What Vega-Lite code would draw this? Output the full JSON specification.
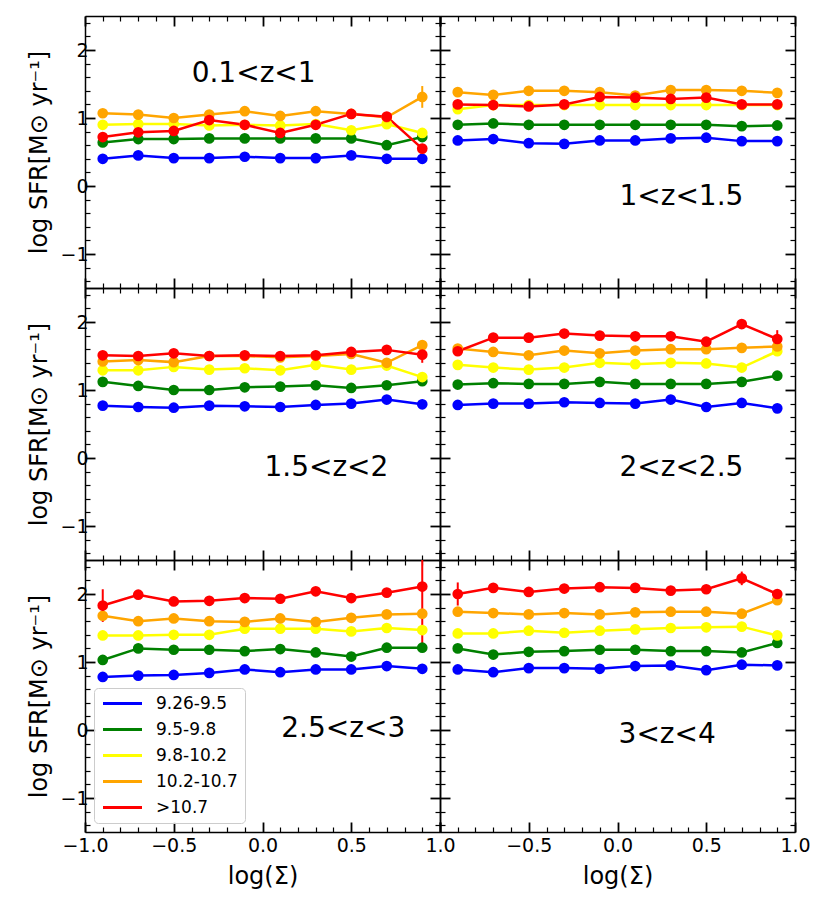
{
  "$schema": "https://vega.github.io/schema/vega-lite/v6.json",
  "padding": {"left": 27, "top": 13, "right": 5, "bottom": 5},
  "background": "white",
  "columns": 2,
  "spacing": 0,
  "bounds": "flush",
  "resolve": {"scale": {"color": "independent"}, "legend": {"color": "independent"}},
  "config": {
    "view": {"stroke": null},
    "font": "DejaVu Sans",
    "axis": {"domainColor": "black", "domainWidth": 1.5, "tickColor": "black", "labelColor": "black", "titleColor": "black", "labelFont": "DejaVu Sans", "titleFont": "DejaVu Sans", "titleFontWeight": "normal", "grid": false, "labelOverlap": false, "labelFlush": false, "tickCap": "butt"}
  },
  "datasets": {
    "d": [
      {"p":1,"m":"9.26-9.5","x":-0.9,"y":0.40,"e":0.02},{"p":1,"m":"9.26-9.5","x":-0.7,"y":0.45,"e":0.02},{"p":1,"m":"9.26-9.5","x":-0.5,"y":0.41,"e":0.02},{"p":1,"m":"9.26-9.5","x":-0.3,"y":0.41,"e":0.02},{"p":1,"m":"9.26-9.5","x":-0.1,"y":0.43,"e":0.02},{"p":1,"m":"9.26-9.5","x":0.1,"y":0.41,"e":0.02},{"p":1,"m":"9.26-9.5","x":0.3,"y":0.41,"e":0.02},{"p":1,"m":"9.26-9.5","x":0.5,"y":0.45,"e":0.02},{"p":1,"m":"9.26-9.5","x":0.7,"y":0.40,"e":0.02},{"p":1,"m":"9.26-9.5","x":0.9,"y":0.40,"e":0.02},
      {"p":1,"m":"9.5-9.8","x":-0.9,"y":0.64,"e":0.02},{"p":1,"m":"9.5-9.8","x":-0.7,"y":0.69,"e":0.02},{"p":1,"m":"9.5-9.8","x":-0.5,"y":0.69,"e":0.02},{"p":1,"m":"9.5-9.8","x":-0.3,"y":0.70,"e":0.02},{"p":1,"m":"9.5-9.8","x":-0.1,"y":0.70,"e":0.02},{"p":1,"m":"9.5-9.8","x":0.1,"y":0.70,"e":0.02},{"p":1,"m":"9.5-9.8","x":0.3,"y":0.70,"e":0.02},{"p":1,"m":"9.5-9.8","x":0.5,"y":0.70,"e":0.02},{"p":1,"m":"9.5-9.8","x":0.7,"y":0.60,"e":0.02},{"p":1,"m":"9.5-9.8","x":0.9,"y":0.72,"e":0.02},
      {"p":1,"m":"9.8-10.2","x":-0.9,"y":0.90,"e":0.02},{"p":1,"m":"9.8-10.2","x":-0.7,"y":0.91,"e":0.02},{"p":1,"m":"9.8-10.2","x":-0.5,"y":0.91,"e":0.02},{"p":1,"m":"9.8-10.2","x":-0.3,"y":0.89,"e":0.02},{"p":1,"m":"9.8-10.2","x":-0.1,"y":0.90,"e":0.02},{"p":1,"m":"9.8-10.2","x":0.1,"y":0.89,"e":0.02},{"p":1,"m":"9.8-10.2","x":0.3,"y":0.91,"e":0.02},{"p":1,"m":"9.8-10.2","x":0.5,"y":0.82,"e":0.02},{"p":1,"m":"9.8-10.2","x":0.7,"y":0.91,"e":0.02},{"p":1,"m":"9.8-10.2","x":0.9,"y":0.78,"e":0.04},
      {"p":1,"m":"10.2-10.7","x":-0.9,"y":1.07,"e":0.02},{"p":1,"m":"10.2-10.7","x":-0.7,"y":1.05,"e":0.02},{"p":1,"m":"10.2-10.7","x":-0.5,"y":1.00,"e":0.02},{"p":1,"m":"10.2-10.7","x":-0.3,"y":1.05,"e":0.02},{"p":1,"m":"10.2-10.7","x":-0.1,"y":1.10,"e":0.02},{"p":1,"m":"10.2-10.7","x":0.1,"y":1.03,"e":0.02},{"p":1,"m":"10.2-10.7","x":0.3,"y":1.10,"e":0.02},{"p":1,"m":"10.2-10.7","x":0.5,"y":1.06,"e":0.02},{"p":1,"m":"10.2-10.7","x":0.7,"y":1.01,"e":0.02},{"p":1,"m":"10.2-10.7","x":0.9,"y":1.31,"e":0.16},
      {"p":1,"m":">10.7","x":-0.9,"y":0.72,"e":0.02},{"p":1,"m":">10.7","x":-0.7,"y":0.79,"e":0.02},{"p":1,"m":">10.7","x":-0.5,"y":0.81,"e":0.02},{"p":1,"m":">10.7","x":-0.3,"y":0.97,"e":0.02},{"p":1,"m":">10.7","x":-0.1,"y":0.90,"e":0.02},{"p":1,"m":">10.7","x":0.1,"y":0.78,"e":0.02},{"p":1,"m":">10.7","x":0.3,"y":0.90,"e":0.02},{"p":1,"m":">10.7","x":0.5,"y":1.06,"e":0.02},{"p":1,"m":">10.7","x":0.7,"y":1.02,"e":0.02},{"p":1,"m":">10.7","x":0.9,"y":0.55,"e":0.05},

      {"p":2,"m":"9.26-9.5","x":-0.9,"y":0.67,"e":0.02},{"p":2,"m":"9.26-9.5","x":-0.7,"y":0.69,"e":0.02},{"p":2,"m":"9.26-9.5","x":-0.5,"y":0.63,"e":0.02},{"p":2,"m":"9.26-9.5","x":-0.3,"y":0.62,"e":0.02},{"p":2,"m":"9.26-9.5","x":-0.1,"y":0.67,"e":0.02},{"p":2,"m":"9.26-9.5","x":0.1,"y":0.67,"e":0.02},{"p":2,"m":"9.26-9.5","x":0.3,"y":0.70,"e":0.02},{"p":2,"m":"9.26-9.5","x":0.5,"y":0.71,"e":0.02},{"p":2,"m":"9.26-9.5","x":0.7,"y":0.66,"e":0.02},{"p":2,"m":"9.26-9.5","x":0.9,"y":0.66,"e":0.02},
      {"p":2,"m":"9.5-9.8","x":-0.9,"y":0.90,"e":0.02},{"p":2,"m":"9.5-9.8","x":-0.7,"y":0.92,"e":0.02},{"p":2,"m":"9.5-9.8","x":-0.5,"y":0.90,"e":0.02},{"p":2,"m":"9.5-9.8","x":-0.3,"y":0.90,"e":0.02},{"p":2,"m":"9.5-9.8","x":-0.1,"y":0.90,"e":0.02},{"p":2,"m":"9.5-9.8","x":0.1,"y":0.90,"e":0.02},{"p":2,"m":"9.5-9.8","x":0.3,"y":0.90,"e":0.02},{"p":2,"m":"9.5-9.8","x":0.5,"y":0.90,"e":0.02},{"p":2,"m":"9.5-9.8","x":0.7,"y":0.88,"e":0.02},{"p":2,"m":"9.5-9.8","x":0.9,"y":0.89,"e":0.02},
      {"p":2,"m":"9.8-10.2","x":-0.9,"y":1.13,"e":0.02},{"p":2,"m":"9.8-10.2","x":-0.7,"y":1.19,"e":0.02},{"p":2,"m":"9.8-10.2","x":-0.5,"y":1.19,"e":0.02},{"p":2,"m":"9.8-10.2","x":-0.3,"y":1.19,"e":0.02},{"p":2,"m":"9.8-10.2","x":-0.1,"y":1.19,"e":0.02},{"p":2,"m":"9.8-10.2","x":0.1,"y":1.19,"e":0.02},{"p":2,"m":"9.8-10.2","x":0.3,"y":1.19,"e":0.02},{"p":2,"m":"9.8-10.2","x":0.5,"y":1.19,"e":0.02},{"p":2,"m":"9.8-10.2","x":0.7,"y":1.19,"e":0.02},{"p":2,"m":"9.8-10.2","x":0.9,"y":1.19,"e":0.02},
      {"p":2,"m":"10.2-10.7","x":-0.9,"y":1.38,"e":0.02},{"p":2,"m":"10.2-10.7","x":-0.7,"y":1.34,"e":0.02},{"p":2,"m":"10.2-10.7","x":-0.5,"y":1.40,"e":0.02},{"p":2,"m":"10.2-10.7","x":-0.3,"y":1.40,"e":0.02},{"p":2,"m":"10.2-10.7","x":-0.1,"y":1.38,"e":0.02},{"p":2,"m":"10.2-10.7","x":0.1,"y":1.33,"e":0.02},{"p":2,"m":"10.2-10.7","x":0.3,"y":1.41,"e":0.02},{"p":2,"m":"10.2-10.7","x":0.5,"y":1.41,"e":0.02},{"p":2,"m":"10.2-10.7","x":0.7,"y":1.40,"e":0.02},{"p":2,"m":"10.2-10.7","x":0.9,"y":1.37,"e":0.05},
      {"p":2,"m":">10.7","x":-0.9,"y":1.20,"e":0.02},{"p":2,"m":">10.7","x":-0.7,"y":1.19,"e":0.02},{"p":2,"m":">10.7","x":-0.5,"y":1.17,"e":0.02},{"p":2,"m":">10.7","x":-0.3,"y":1.20,"e":0.02},{"p":2,"m":">10.7","x":-0.1,"y":1.31,"e":0.02},{"p":2,"m":">10.7","x":0.1,"y":1.30,"e":0.02},{"p":2,"m":">10.7","x":0.3,"y":1.28,"e":0.02},{"p":2,"m":">10.7","x":0.5,"y":1.30,"e":0.02},{"p":2,"m":">10.7","x":0.7,"y":1.20,"e":0.02},{"p":2,"m":">10.7","x":0.9,"y":1.20,"e":0.05},

      {"p":3,"m":"9.26-9.5","x":-0.9,"y":0.77,"e":0.02},{"p":3,"m":"9.26-9.5","x":-0.7,"y":0.75,"e":0.02},{"p":3,"m":"9.26-9.5","x":-0.5,"y":0.74,"e":0.02},{"p":3,"m":"9.26-9.5","x":-0.3,"y":0.77,"e":0.02},{"p":3,"m":"9.26-9.5","x":-0.1,"y":0.76,"e":0.02},{"p":3,"m":"9.26-9.5","x":0.1,"y":0.75,"e":0.02},{"p":3,"m":"9.26-9.5","x":0.3,"y":0.78,"e":0.02},{"p":3,"m":"9.26-9.5","x":0.5,"y":0.80,"e":0.02},{"p":3,"m":"9.26-9.5","x":0.7,"y":0.86,"e":0.02},{"p":3,"m":"9.26-9.5","x":0.9,"y":0.79,"e":0.02},
      {"p":3,"m":"9.5-9.8","x":-0.9,"y":1.12,"e":0.02},{"p":3,"m":"9.5-9.8","x":-0.7,"y":1.06,"e":0.02},{"p":3,"m":"9.5-9.8","x":-0.5,"y":1.00,"e":0.02},{"p":3,"m":"9.5-9.8","x":-0.3,"y":1.00,"e":0.02},{"p":3,"m":"9.5-9.8","x":-0.1,"y":1.04,"e":0.02},{"p":3,"m":"9.5-9.8","x":0.1,"y":1.05,"e":0.02},{"p":3,"m":"9.5-9.8","x":0.3,"y":1.07,"e":0.02},{"p":3,"m":"9.5-9.8","x":0.5,"y":1.03,"e":0.02},{"p":3,"m":"9.5-9.8","x":0.7,"y":1.07,"e":0.02},{"p":3,"m":"9.5-9.8","x":0.9,"y":1.13,"e":0.02},
      {"p":3,"m":"9.8-10.2","x":-0.9,"y":1.29,"e":0.02},{"p":3,"m":"9.8-10.2","x":-0.7,"y":1.29,"e":0.02},{"p":3,"m":"9.8-10.2","x":-0.5,"y":1.34,"e":0.02},{"p":3,"m":"9.8-10.2","x":-0.3,"y":1.30,"e":0.02},{"p":3,"m":"9.8-10.2","x":-0.1,"y":1.32,"e":0.02},{"p":3,"m":"9.8-10.2","x":0.1,"y":1.29,"e":0.02},{"p":3,"m":"9.8-10.2","x":0.3,"y":1.37,"e":0.02},{"p":3,"m":"9.8-10.2","x":0.5,"y":1.30,"e":0.02},{"p":3,"m":"9.8-10.2","x":0.7,"y":1.36,"e":0.02},{"p":3,"m":"9.8-10.2","x":0.9,"y":1.19,"e":0.02},
      {"p":3,"m":"10.2-10.7","x":-0.9,"y":1.42,"e":0.02},{"p":3,"m":"10.2-10.7","x":-0.7,"y":1.44,"e":0.02},{"p":3,"m":"10.2-10.7","x":-0.5,"y":1.41,"e":0.02},{"p":3,"m":"10.2-10.7","x":-0.3,"y":1.50,"e":0.02},{"p":3,"m":"10.2-10.7","x":-0.1,"y":1.50,"e":0.02},{"p":3,"m":"10.2-10.7","x":0.1,"y":1.48,"e":0.02},{"p":3,"m":"10.2-10.7","x":0.3,"y":1.50,"e":0.02},{"p":3,"m":"10.2-10.7","x":0.5,"y":1.53,"e":0.02},{"p":3,"m":"10.2-10.7","x":0.7,"y":1.40,"e":0.02},{"p":3,"m":"10.2-10.7","x":0.9,"y":1.66,"e":0.05},
      {"p":3,"m":">10.7","x":-0.9,"y":1.51,"e":0.02},{"p":3,"m":">10.7","x":-0.7,"y":1.50,"e":0.02},{"p":3,"m":">10.7","x":-0.5,"y":1.54,"e":0.02},{"p":3,"m":">10.7","x":-0.3,"y":1.50,"e":0.02},{"p":3,"m":">10.7","x":-0.1,"y":1.51,"e":0.02},{"p":3,"m":">10.7","x":0.1,"y":1.50,"e":0.02},{"p":3,"m":">10.7","x":0.3,"y":1.51,"e":0.02},{"p":3,"m":">10.7","x":0.5,"y":1.56,"e":0.02},{"p":3,"m":">10.7","x":0.7,"y":1.59,"e":0.02},{"p":3,"m":">10.7","x":0.9,"y":1.52,"e":0.12},

      {"p":4,"m":"9.26-9.5","x":-0.9,"y":0.78,"e":0.02},{"p":4,"m":"9.26-9.5","x":-0.7,"y":0.80,"e":0.02},{"p":4,"m":"9.26-9.5","x":-0.5,"y":0.80,"e":0.02},{"p":4,"m":"9.26-9.5","x":-0.3,"y":0.82,"e":0.02},{"p":4,"m":"9.26-9.5","x":-0.1,"y":0.81,"e":0.02},{"p":4,"m":"9.26-9.5","x":0.1,"y":0.80,"e":0.02},{"p":4,"m":"9.26-9.5","x":0.3,"y":0.86,"e":0.02},{"p":4,"m":"9.26-9.5","x":0.5,"y":0.75,"e":0.02},{"p":4,"m":"9.26-9.5","x":0.7,"y":0.81,"e":0.02},{"p":4,"m":"9.26-9.5","x":0.9,"y":0.73,"e":0.02},
      {"p":4,"m":"9.5-9.8","x":-0.9,"y":1.08,"e":0.02},{"p":4,"m":"9.5-9.8","x":-0.7,"y":1.10,"e":0.02},{"p":4,"m":"9.5-9.8","x":-0.5,"y":1.09,"e":0.02},{"p":4,"m":"9.5-9.8","x":-0.3,"y":1.09,"e":0.02},{"p":4,"m":"9.5-9.8","x":-0.1,"y":1.12,"e":0.02},{"p":4,"m":"9.5-9.8","x":0.1,"y":1.09,"e":0.02},{"p":4,"m":"9.5-9.8","x":0.3,"y":1.09,"e":0.02},{"p":4,"m":"9.5-9.8","x":0.5,"y":1.09,"e":0.02},{"p":4,"m":"9.5-9.8","x":0.7,"y":1.12,"e":0.02},{"p":4,"m":"9.5-9.8","x":0.9,"y":1.21,"e":0.02},
      {"p":4,"m":"9.8-10.2","x":-0.9,"y":1.37,"e":0.02},{"p":4,"m":"9.8-10.2","x":-0.7,"y":1.33,"e":0.02},{"p":4,"m":"9.8-10.2","x":-0.5,"y":1.30,"e":0.02},{"p":4,"m":"9.8-10.2","x":-0.3,"y":1.33,"e":0.02},{"p":4,"m":"9.8-10.2","x":-0.1,"y":1.40,"e":0.02},{"p":4,"m":"9.8-10.2","x":0.1,"y":1.38,"e":0.02},{"p":4,"m":"9.8-10.2","x":0.3,"y":1.40,"e":0.02},{"p":4,"m":"9.8-10.2","x":0.5,"y":1.39,"e":0.02},{"p":4,"m":"9.8-10.2","x":0.7,"y":1.33,"e":0.02},{"p":4,"m":"9.8-10.2","x":0.9,"y":1.57,"e":0.02},
      {"p":4,"m":"10.2-10.7","x":-0.9,"y":1.61,"e":0.02},{"p":4,"m":"10.2-10.7","x":-0.7,"y":1.56,"e":0.02},{"p":4,"m":"10.2-10.7","x":-0.5,"y":1.51,"e":0.02},{"p":4,"m":"10.2-10.7","x":-0.3,"y":1.58,"e":0.02},{"p":4,"m":"10.2-10.7","x":-0.1,"y":1.54,"e":0.02},{"p":4,"m":"10.2-10.7","x":0.1,"y":1.58,"e":0.02},{"p":4,"m":"10.2-10.7","x":0.3,"y":1.60,"e":0.02},{"p":4,"m":"10.2-10.7","x":0.5,"y":1.60,"e":0.02},{"p":4,"m":"10.2-10.7","x":0.7,"y":1.62,"e":0.02},{"p":4,"m":"10.2-10.7","x":0.9,"y":1.64,"e":0.03},
      {"p":4,"m":">10.7","x":-0.9,"y":1.57,"e":0.06},{"p":4,"m":">10.7","x":-0.7,"y":1.77,"e":0.02},{"p":4,"m":">10.7","x":-0.5,"y":1.77,"e":0.02},{"p":4,"m":">10.7","x":-0.3,"y":1.83,"e":0.02},{"p":4,"m":">10.7","x":-0.1,"y":1.80,"e":0.02},{"p":4,"m":">10.7","x":0.1,"y":1.79,"e":0.02},{"p":4,"m":">10.7","x":0.3,"y":1.79,"e":0.02},{"p":4,"m":">10.7","x":0.5,"y":1.71,"e":0.02},{"p":4,"m":">10.7","x":0.7,"y":1.97,"e":0.02},{"p":4,"m":">10.7","x":0.9,"y":1.75,"e":0.13},

      {"p":5,"m":"9.26-9.5","x":-0.9,"y":0.78,"e":0.02},{"p":5,"m":"9.26-9.5","x":-0.7,"y":0.80,"e":0.02},{"p":5,"m":"9.26-9.5","x":-0.5,"y":0.81,"e":0.02},{"p":5,"m":"9.26-9.5","x":-0.3,"y":0.84,"e":0.02},{"p":5,"m":"9.26-9.5","x":-0.1,"y":0.89,"e":0.02},{"p":5,"m":"9.26-9.5","x":0.1,"y":0.85,"e":0.02},{"p":5,"m":"9.26-9.5","x":0.3,"y":0.89,"e":0.02},{"p":5,"m":"9.26-9.5","x":0.5,"y":0.89,"e":0.02},{"p":5,"m":"9.26-9.5","x":0.7,"y":0.94,"e":0.02},{"p":5,"m":"9.26-9.5","x":0.9,"y":0.90,"e":0.02},
      {"p":5,"m":"9.5-9.8","x":-0.9,"y":1.03,"e":0.02},{"p":5,"m":"9.5-9.8","x":-0.7,"y":1.20,"e":0.02},{"p":5,"m":"9.5-9.8","x":-0.5,"y":1.18,"e":0.02},{"p":5,"m":"9.5-9.8","x":-0.3,"y":1.18,"e":0.02},{"p":5,"m":"9.5-9.8","x":-0.1,"y":1.16,"e":0.02},{"p":5,"m":"9.5-9.8","x":0.1,"y":1.19,"e":0.02},{"p":5,"m":"9.5-9.8","x":0.3,"y":1.14,"e":0.02},{"p":5,"m":"9.5-9.8","x":0.5,"y":1.08,"e":0.02},{"p":5,"m":"9.5-9.8","x":0.7,"y":1.21,"e":0.02},{"p":5,"m":"9.5-9.8","x":0.9,"y":1.21,"e":0.02},
      {"p":5,"m":"9.8-10.2","x":-0.9,"y":1.39,"e":0.02},{"p":5,"m":"9.8-10.2","x":-0.7,"y":1.39,"e":0.02},{"p":5,"m":"9.8-10.2","x":-0.5,"y":1.40,"e":0.02},{"p":5,"m":"9.8-10.2","x":-0.3,"y":1.40,"e":0.02},{"p":5,"m":"9.8-10.2","x":-0.1,"y":1.49,"e":0.02},{"p":5,"m":"9.8-10.2","x":0.1,"y":1.49,"e":0.02},{"p":5,"m":"9.8-10.2","x":0.3,"y":1.49,"e":0.02},{"p":5,"m":"9.8-10.2","x":0.5,"y":1.45,"e":0.02},{"p":5,"m":"9.8-10.2","x":0.7,"y":1.50,"e":0.02},{"p":5,"m":"9.8-10.2","x":0.9,"y":1.47,"e":0.02},
      {"p":5,"m":"10.2-10.7","x":-0.9,"y":1.68,"e":0.02},{"p":5,"m":"10.2-10.7","x":-0.7,"y":1.60,"e":0.02},{"p":5,"m":"10.2-10.7","x":-0.5,"y":1.64,"e":0.02},{"p":5,"m":"10.2-10.7","x":-0.3,"y":1.60,"e":0.02},{"p":5,"m":"10.2-10.7","x":-0.1,"y":1.59,"e":0.02},{"p":5,"m":"10.2-10.7","x":0.1,"y":1.64,"e":0.02},{"p":5,"m":"10.2-10.7","x":0.3,"y":1.59,"e":0.02},{"p":5,"m":"10.2-10.7","x":0.5,"y":1.65,"e":0.02},{"p":5,"m":"10.2-10.7","x":0.7,"y":1.70,"e":0.02},{"p":5,"m":"10.2-10.7","x":0.9,"y":1.71,"e":0.04},
      {"p":5,"m":">10.7","x":-0.9,"y":1.83,"e":0.24},{"p":5,"m":">10.7","x":-0.7,"y":1.99,"e":0.02},{"p":5,"m":">10.7","x":-0.5,"y":1.89,"e":0.02},{"p":5,"m":">10.7","x":-0.3,"y":1.90,"e":0.02},{"p":5,"m":">10.7","x":-0.1,"y":1.94,"e":0.02},{"p":5,"m":">10.7","x":0.1,"y":1.93,"e":0.02},{"p":5,"m":">10.7","x":0.3,"y":2.04,"e":0.02},{"p":5,"m":">10.7","x":0.5,"y":1.94,"e":0.02},{"p":5,"m":">10.7","x":0.7,"y":2.02,"e":0.02},{"p":5,"m":">10.7","x":0.9,"y":2.11,"e":0.89},

      {"p":6,"m":"9.26-9.5","x":-0.9,"y":0.89,"e":0.02},{"p":6,"m":"9.26-9.5","x":-0.7,"y":0.85,"e":0.02},{"p":6,"m":"9.26-9.5","x":-0.5,"y":0.91,"e":0.02},{"p":6,"m":"9.26-9.5","x":-0.3,"y":0.91,"e":0.02},{"p":6,"m":"9.26-9.5","x":-0.1,"y":0.90,"e":0.02},{"p":6,"m":"9.26-9.5","x":0.1,"y":0.94,"e":0.02},{"p":6,"m":"9.26-9.5","x":0.3,"y":0.95,"e":0.02},{"p":6,"m":"9.26-9.5","x":0.5,"y":0.88,"e":0.02},{"p":6,"m":"9.26-9.5","x":0.7,"y":0.96,"e":0.02},{"p":6,"m":"9.26-9.5","x":0.9,"y":0.95,"e":0.02},
      {"p":6,"m":"9.5-9.8","x":-0.9,"y":1.20,"e":0.02},{"p":6,"m":"9.5-9.8","x":-0.7,"y":1.11,"e":0.02},{"p":6,"m":"9.5-9.8","x":-0.5,"y":1.15,"e":0.02},{"p":6,"m":"9.5-9.8","x":-0.3,"y":1.16,"e":0.02},{"p":6,"m":"9.5-9.8","x":-0.1,"y":1.18,"e":0.02},{"p":6,"m":"9.5-9.8","x":0.1,"y":1.18,"e":0.02},{"p":6,"m":"9.5-9.8","x":0.3,"y":1.16,"e":0.02},{"p":6,"m":"9.5-9.8","x":0.5,"y":1.16,"e":0.02},{"p":6,"m":"9.5-9.8","x":0.7,"y":1.14,"e":0.02},{"p":6,"m":"9.5-9.8","x":0.9,"y":1.28,"e":0.02},
      {"p":6,"m":"9.8-10.2","x":-0.9,"y":1.42,"e":0.02},{"p":6,"m":"9.8-10.2","x":-0.7,"y":1.42,"e":0.02},{"p":6,"m":"9.8-10.2","x":-0.5,"y":1.46,"e":0.02},{"p":6,"m":"9.8-10.2","x":-0.3,"y":1.43,"e":0.02},{"p":6,"m":"9.8-10.2","x":-0.1,"y":1.46,"e":0.02},{"p":6,"m":"9.8-10.2","x":0.1,"y":1.48,"e":0.02},{"p":6,"m":"9.8-10.2","x":0.3,"y":1.50,"e":0.02},{"p":6,"m":"9.8-10.2","x":0.5,"y":1.51,"e":0.02},{"p":6,"m":"9.8-10.2","x":0.7,"y":1.52,"e":0.02},{"p":6,"m":"9.8-10.2","x":0.9,"y":1.39,"e":0.02},
      {"p":6,"m":"10.2-10.7","x":-0.9,"y":1.74,"e":0.02},{"p":6,"m":"10.2-10.7","x":-0.7,"y":1.72,"e":0.02},{"p":6,"m":"10.2-10.7","x":-0.5,"y":1.70,"e":0.02},{"p":6,"m":"10.2-10.7","x":-0.3,"y":1.72,"e":0.02},{"p":6,"m":"10.2-10.7","x":-0.1,"y":1.70,"e":0.02},{"p":6,"m":"10.2-10.7","x":0.1,"y":1.73,"e":0.02},{"p":6,"m":"10.2-10.7","x":0.3,"y":1.74,"e":0.02},{"p":6,"m":"10.2-10.7","x":0.5,"y":1.74,"e":0.02},{"p":6,"m":"10.2-10.7","x":0.7,"y":1.71,"e":0.02},{"p":6,"m":"10.2-10.7","x":0.9,"y":1.91,"e":0.05},
      {"p":6,"m":">10.7","x":-0.9,"y":2.00,"e":0.17},{"p":6,"m":">10.7","x":-0.7,"y":2.09,"e":0.02},{"p":6,"m":">10.7","x":-0.5,"y":2.03,"e":0.02},{"p":6,"m":">10.7","x":-0.3,"y":2.08,"e":0.02},{"p":6,"m":">10.7","x":-0.1,"y":2.10,"e":0.02},{"p":6,"m":">10.7","x":0.1,"y":2.09,"e":0.02},{"p":6,"m":">10.7","x":0.3,"y":2.05,"e":0.02},{"p":6,"m":">10.7","x":0.5,"y":2.07,"e":0.02},{"p":6,"m":">10.7","x":0.7,"y":2.23,"e":0.10},{"p":6,"m":">10.7","x":0.9,"y":2.00,"e":0.03}
    ]
  },
  "concat": [
    {
      "width": 355, "height": 272,
      "encoding": {
        "color": {"field": "m", "type": "nominal", "scale": {"domain": ["9.26-9.5", "9.5-9.8", "9.8-10.2", "10.2-10.7", ">10.7"], "range": ["blue", "green", "yellow", "orange", "red"]}, "legend": null}
      },
      "layer": [
        {"data": {"name": "d"}, "transform": [{"filter": "datum.p == 1"}], "mark": {"type": "line", "strokeWidth": 2.5},
         "encoding": {
           "x": {"field": "x", "type": "quantitative", "scale": {"domain": [-1, 1], "nice": false, "zero": false}, "axis": {"orient": "bottom", "values": [-1,-0.9,-0.8,-0.7,-0.6,-0.5,-0.4,-0.3,-0.2,-0.1,0,0.1,0.2,0.3,0.4,0.5,0.6,0.7,0.8,0.9,1], "tickSize": {"condition": {"test": "abs(datum.value*2-round(datum.value*2))<0.01", "value": -10}, "value": -5}, "tickWidth": {"condition": {"test": "abs(datum.value*2-round(datum.value*2))<0.01", "value": 1.8}, "value": 1.2}, "labels": false, "title": null}},
           "y": {"field": "y", "type": "quantitative", "scale": {"domain": [-1.5, 2.5], "nice": false, "zero": false, "clamp": true}, "axis": {"orient": "left", "values": [-1.4,-1.2,-1,-0.8,-0.6,-0.4,-0.2,0,0.2,0.4,0.6,0.8,1,1.2,1.4,1.6,1.8,2,2.2,2.4], "tickSize": {"condition": {"test": "abs(datum.value-round(datum.value))<0.01", "value": -10}, "value": -5}, "tickWidth": {"condition": {"test": "abs(datum.value-round(datum.value))<0.01", "value": 1.8}, "value": 1.2}, "labelExpr": "abs(datum.value-round(datum.value))<0.01 ? format(datum.value,'d') : ''", "labelFontSize": 19, "labelPadding": 7, "title": "log SFR[M⊙ yr⁻¹]", "titleFontSize": 24, "titlePadding": 8}}
         }},
        {"data": {"name": "d"}, "transform": [{"filter": "datum.p == 1"}], "mark": {"type": "errorbar", "thickness": 2},
         "encoding": {
           "x": {"field": "x", "type": "quantitative", "scale": {"domain": [-1, 1], "nice": false, "zero": false}, "axis": null},
           "y": {"field": "y", "type": "quantitative", "scale": {"domain": [-1.5, 2.5], "nice": false, "zero": false, "clamp": true}, "axis": null},
           "yError": {"field": "e"}
         }},
        {"data": {"name": "d"}, "transform": [{"filter": "datum.p == 1"}], "mark": {"type": "point", "filled": true, "size": 115, "opacity": 1},
         "encoding": {
           "x": {"field": "x", "type": "quantitative", "scale": {"domain": [-1, 1], "nice": false, "zero": false}, "axis": {"orient": "top", "values": [-1,-0.9,-0.8,-0.7,-0.6,-0.5,-0.4,-0.3,-0.2,-0.1,0,0.1,0.2,0.3,0.4,0.5,0.6,0.7,0.8,0.9,1], "tickSize": {"condition": {"test": "abs(datum.value*2-round(datum.value*2))<0.01", "value": -10}, "value": -5}, "tickWidth": {"condition": {"test": "abs(datum.value*2-round(datum.value*2))<0.01", "value": 1.8}, "value": 1.2}, "labels": false, "title": null}},
           "y": {"field": "y", "type": "quantitative", "scale": {"domain": [-1.5, 2.5], "nice": false, "zero": false, "clamp": true}, "axis": {"orient": "right", "values": [-1.4,-1.2,-1,-0.8,-0.6,-0.4,-0.2,0,0.2,0.4,0.6,0.8,1,1.2,1.4,1.6,1.8,2,2.2,2.4], "tickSize": {"condition": {"test": "abs(datum.value-round(datum.value))<0.01", "value": -10}, "value": -5}, "tickWidth": {"condition": {"test": "abs(datum.value-round(datum.value))<0.01", "value": 1.8}, "value": 1.2}, "labels": false, "title": null}}
         }},
        {"data": {"values": [{"label": "0.1<z<1"}]}, "mark": {"type": "text", "fontSize": 28, "align": "center", "baseline": "middle", "color": "black"},
         "encoding": {
           "x": {"datum": -0.05, "type": "quantitative", "scale": {"domain": [-1, 1], "nice": false, "zero": false}, "axis": null},
           "y": {"datum": 1.65, "type": "quantitative", "scale": {"domain": [-1.5, 2.5], "nice": false, "zero": false, "clamp": true}, "axis": null},
           "text": {"field": "label"}, "color": {"value": "black"}
         }}
      ],
      "resolve": {"axis": {"x": "independent", "y": "independent"}}
    },
    {
      "width": 355, "height": 272,
      "encoding": {
        "color": {"field": "m", "type": "nominal", "scale": {"domain": ["9.26-9.5", "9.5-9.8", "9.8-10.2", "10.2-10.7", ">10.7"], "range": ["blue", "green", "yellow", "orange", "red"]}, "legend": null}
      },
      "layer": [
        {"data": {"name": "d"}, "transform": [{"filter": "datum.p == 2"}], "mark": {"type": "line", "strokeWidth": 2.5},
         "encoding": {
           "x": {"field": "x", "type": "quantitative", "scale": {"domain": [-1, 1], "nice": false, "zero": false}, "axis": {"orient": "bottom", "values": [-1,-0.9,-0.8,-0.7,-0.6,-0.5,-0.4,-0.3,-0.2,-0.1,0,0.1,0.2,0.3,0.4,0.5,0.6,0.7,0.8,0.9,1], "tickSize": {"condition": {"test": "abs(datum.value*2-round(datum.value*2))<0.01", "value": -10}, "value": -5}, "tickWidth": {"condition": {"test": "abs(datum.value*2-round(datum.value*2))<0.01", "value": 1.8}, "value": 1.2}, "labels": false, "title": null}},
           "y": {"field": "y", "type": "quantitative", "scale": {"domain": [-1.5, 2.5], "nice": false, "zero": false, "clamp": true}, "axis": {"orient": "left", "values": [-1.4,-1.2,-1,-0.8,-0.6,-0.4,-0.2,0,0.2,0.4,0.6,0.8,1,1.2,1.4,1.6,1.8,2,2.2,2.4], "tickSize": {"condition": {"test": "abs(datum.value-round(datum.value))<0.01", "value": -10}, "value": -5}, "tickWidth": {"condition": {"test": "abs(datum.value-round(datum.value))<0.01", "value": 1.8}, "value": 1.2}, "labels": false, "title": null}}
         }},
        {"data": {"name": "d"}, "transform": [{"filter": "datum.p == 2"}], "mark": {"type": "errorbar", "thickness": 2},
         "encoding": {
           "x": {"field": "x", "type": "quantitative", "scale": {"domain": [-1, 1], "nice": false, "zero": false}, "axis": null},
           "y": {"field": "y", "type": "quantitative", "scale": {"domain": [-1.5, 2.5], "nice": false, "zero": false, "clamp": true}, "axis": null},
           "yError": {"field": "e"}
         }},
        {"data": {"name": "d"}, "transform": [{"filter": "datum.p == 2"}], "mark": {"type": "point", "filled": true, "size": 115, "opacity": 1},
         "encoding": {
           "x": {"field": "x", "type": "quantitative", "scale": {"domain": [-1, 1], "nice": false, "zero": false}, "axis": {"orient": "top", "values": [-1,-0.9,-0.8,-0.7,-0.6,-0.5,-0.4,-0.3,-0.2,-0.1,0,0.1,0.2,0.3,0.4,0.5,0.6,0.7,0.8,0.9,1], "tickSize": {"condition": {"test": "abs(datum.value*2-round(datum.value*2))<0.01", "value": -10}, "value": -5}, "tickWidth": {"condition": {"test": "abs(datum.value*2-round(datum.value*2))<0.01", "value": 1.8}, "value": 1.2}, "labels": false, "title": null}},
           "y": {"field": "y", "type": "quantitative", "scale": {"domain": [-1.5, 2.5], "nice": false, "zero": false, "clamp": true}, "axis": {"orient": "right", "values": [-1.4,-1.2,-1,-0.8,-0.6,-0.4,-0.2,0,0.2,0.4,0.6,0.8,1,1.2,1.4,1.6,1.8,2,2.2,2.4], "tickSize": {"condition": {"test": "abs(datum.value-round(datum.value))<0.01", "value": -10}, "value": -5}, "tickWidth": {"condition": {"test": "abs(datum.value-round(datum.value))<0.01", "value": 1.8}, "value": 1.2}, "labels": false, "title": null}}
         }},
        {"data": {"values": [{"label": "1<z<1.5"}]}, "mark": {"type": "text", "fontSize": 28, "align": "center", "baseline": "middle", "color": "black"},
         "encoding": {
           "x": {"datum": 0.36, "type": "quantitative", "scale": {"domain": [-1, 1], "nice": false, "zero": false}, "axis": null},
           "y": {"datum": -0.16, "type": "quantitative", "scale": {"domain": [-1.5, 2.5], "nice": false, "zero": false, "clamp": true}, "axis": null},
           "text": {"field": "label"}, "color": {"value": "black"}
         }}
      ],
      "resolve": {"axis": {"x": "independent", "y": "independent"}}
    },
    {
      "width": 355, "height": 272,
      "encoding": {
        "color": {"field": "m", "type": "nominal", "scale": {"domain": ["9.26-9.5", "9.5-9.8", "9.8-10.2", "10.2-10.7", ">10.7"], "range": ["blue", "green", "yellow", "orange", "red"]}, "legend": null}
      },
      "layer": [
        {"data": {"name": "d"}, "transform": [{"filter": "datum.p == 3"}], "mark": {"type": "line", "strokeWidth": 2.5},
         "encoding": {
           "x": {"field": "x", "type": "quantitative", "scale": {"domain": [-1, 1], "nice": false, "zero": false}, "axis": {"orient": "bottom", "values": [-1,-0.9,-0.8,-0.7,-0.6,-0.5,-0.4,-0.3,-0.2,-0.1,0,0.1,0.2,0.3,0.4,0.5,0.6,0.7,0.8,0.9,1], "tickSize": {"condition": {"test": "abs(datum.value*2-round(datum.value*2))<0.01", "value": -10}, "value": -5}, "tickWidth": {"condition": {"test": "abs(datum.value*2-round(datum.value*2))<0.01", "value": 1.8}, "value": 1.2}, "labels": false, "title": null}},
           "y": {"field": "y", "type": "quantitative", "scale": {"domain": [-1.5, 2.5], "nice": false, "zero": false, "clamp": true}, "axis": {"orient": "left", "values": [-1.4,-1.2,-1,-0.8,-0.6,-0.4,-0.2,0,0.2,0.4,0.6,0.8,1,1.2,1.4,1.6,1.8,2,2.2,2.4], "tickSize": {"condition": {"test": "abs(datum.value-round(datum.value))<0.01", "value": -10}, "value": -5}, "tickWidth": {"condition": {"test": "abs(datum.value-round(datum.value))<0.01", "value": 1.8}, "value": 1.2}, "labelExpr": "abs(datum.value-round(datum.value))<0.01 ? format(datum.value,'d') : ''", "labelFontSize": 19, "labelPadding": 7, "title": "log SFR[M⊙ yr⁻¹]", "titleFontSize": 24, "titlePadding": 8}}
         }},
        {"data": {"name": "d"}, "transform": [{"filter": "datum.p == 3"}], "mark": {"type": "errorbar", "thickness": 2},
         "encoding": {
           "x": {"field": "x", "type": "quantitative", "scale": {"domain": [-1, 1], "nice": false, "zero": false}, "axis": null},
           "y": {"field": "y", "type": "quantitative", "scale": {"domain": [-1.5, 2.5], "nice": false, "zero": false, "clamp": true}, "axis": null},
           "yError": {"field": "e"}
         }},
        {"data": {"name": "d"}, "transform": [{"filter": "datum.p == 3"}], "mark": {"type": "point", "filled": true, "size": 115, "opacity": 1},
         "encoding": {
           "x": {"field": "x", "type": "quantitative", "scale": {"domain": [-1, 1], "nice": false, "zero": false}, "axis": {"orient": "top", "values": [-1,-0.9,-0.8,-0.7,-0.6,-0.5,-0.4,-0.3,-0.2,-0.1,0,0.1,0.2,0.3,0.4,0.5,0.6,0.7,0.8,0.9,1], "tickSize": {"condition": {"test": "abs(datum.value*2-round(datum.value*2))<0.01", "value": -10}, "value": -5}, "tickWidth": {"condition": {"test": "abs(datum.value*2-round(datum.value*2))<0.01", "value": 1.8}, "value": 1.2}, "labels": false, "title": null}},
           "y": {"field": "y", "type": "quantitative", "scale": {"domain": [-1.5, 2.5], "nice": false, "zero": false, "clamp": true}, "axis": {"orient": "right", "values": [-1.4,-1.2,-1,-0.8,-0.6,-0.4,-0.2,0,0.2,0.4,0.6,0.8,1,1.2,1.4,1.6,1.8,2,2.2,2.4], "tickSize": {"condition": {"test": "abs(datum.value-round(datum.value))<0.01", "value": -10}, "value": -5}, "tickWidth": {"condition": {"test": "abs(datum.value-round(datum.value))<0.01", "value": 1.8}, "value": 1.2}, "labels": false, "title": null}}
         }},
        {"data": {"values": [{"label": "1.5<z<2"}]}, "mark": {"type": "text", "fontSize": 28, "align": "center", "baseline": "middle", "color": "black"},
         "encoding": {
           "x": {"datum": 0.36, "type": "quantitative", "scale": {"domain": [-1, 1], "nice": false, "zero": false}, "axis": null},
           "y": {"datum": -0.15, "type": "quantitative", "scale": {"domain": [-1.5, 2.5], "nice": false, "zero": false, "clamp": true}, "axis": null},
           "text": {"field": "label"}, "color": {"value": "black"}
         }}
      ],
      "resolve": {"axis": {"x": "independent", "y": "independent"}}
    },
    {
      "width": 355, "height": 272,
      "encoding": {
        "color": {"field": "m", "type": "nominal", "scale": {"domain": ["9.26-9.5", "9.5-9.8", "9.8-10.2", "10.2-10.7", ">10.7"], "range": ["blue", "green", "yellow", "orange", "red"]}, "legend": null}
      },
      "layer": [
        {"data": {"name": "d"}, "transform": [{"filter": "datum.p == 4"}], "mark": {"type": "line", "strokeWidth": 2.5},
         "encoding": {
           "x": {"field": "x", "type": "quantitative", "scale": {"domain": [-1, 1], "nice": false, "zero": false}, "axis": {"orient": "bottom", "values": [-1,-0.9,-0.8,-0.7,-0.6,-0.5,-0.4,-0.3,-0.2,-0.1,0,0.1,0.2,0.3,0.4,0.5,0.6,0.7,0.8,0.9,1], "tickSize": {"condition": {"test": "abs(datum.value*2-round(datum.value*2))<0.01", "value": -10}, "value": -5}, "tickWidth": {"condition": {"test": "abs(datum.value*2-round(datum.value*2))<0.01", "value": 1.8}, "value": 1.2}, "labels": false, "title": null}},
           "y": {"field": "y", "type": "quantitative", "scale": {"domain": [-1.5, 2.5], "nice": false, "zero": false, "clamp": true}, "axis": {"orient": "left", "values": [-1.4,-1.2,-1,-0.8,-0.6,-0.4,-0.2,0,0.2,0.4,0.6,0.8,1,1.2,1.4,1.6,1.8,2,2.2,2.4], "tickSize": {"condition": {"test": "abs(datum.value-round(datum.value))<0.01", "value": -10}, "value": -5}, "tickWidth": {"condition": {"test": "abs(datum.value-round(datum.value))<0.01", "value": 1.8}, "value": 1.2}, "labels": false, "title": null}}
         }},
        {"data": {"name": "d"}, "transform": [{"filter": "datum.p == 4"}], "mark": {"type": "errorbar", "thickness": 2},
         "encoding": {
           "x": {"field": "x", "type": "quantitative", "scale": {"domain": [-1, 1], "nice": false, "zero": false}, "axis": null},
           "y": {"field": "y", "type": "quantitative", "scale": {"domain": [-1.5, 2.5], "nice": false, "zero": false, "clamp": true}, "axis": null},
           "yError": {"field": "e"}
         }},
        {"data": {"name": "d"}, "transform": [{"filter": "datum.p == 4"}], "mark": {"type": "point", "filled": true, "size": 115, "opacity": 1},
         "encoding": {
           "x": {"field": "x", "type": "quantitative", "scale": {"domain": [-1, 1], "nice": false, "zero": false}, "axis": {"orient": "top", "values": [-1,-0.9,-0.8,-0.7,-0.6,-0.5,-0.4,-0.3,-0.2,-0.1,0,0.1,0.2,0.3,0.4,0.5,0.6,0.7,0.8,0.9,1], "tickSize": {"condition": {"test": "abs(datum.value*2-round(datum.value*2))<0.01", "value": -10}, "value": -5}, "tickWidth": {"condition": {"test": "abs(datum.value*2-round(datum.value*2))<0.01", "value": 1.8}, "value": 1.2}, "labels": false, "title": null}},
           "y": {"field": "y", "type": "quantitative", "scale": {"domain": [-1.5, 2.5], "nice": false, "zero": false, "clamp": true}, "axis": {"orient": "right", "values": [-1.4,-1.2,-1,-0.8,-0.6,-0.4,-0.2,0,0.2,0.4,0.6,0.8,1,1.2,1.4,1.6,1.8,2,2.2,2.4], "tickSize": {"condition": {"test": "abs(datum.value-round(datum.value))<0.01", "value": -10}, "value": -5}, "tickWidth": {"condition": {"test": "abs(datum.value-round(datum.value))<0.01", "value": 1.8}, "value": 1.2}, "labels": false, "title": null}}
         }},
        {"data": {"values": [{"label": "2<z<2.5"}]}, "mark": {"type": "text", "fontSize": 28, "align": "center", "baseline": "middle", "color": "black"},
         "encoding": {
           "x": {"datum": 0.36, "type": "quantitative", "scale": {"domain": [-1, 1], "nice": false, "zero": false}, "axis": null},
           "y": {"datum": -0.15, "type": "quantitative", "scale": {"domain": [-1.5, 2.5], "nice": false, "zero": false, "clamp": true}, "axis": null},
           "text": {"field": "label"}, "color": {"value": "black"}
         }}
      ],
      "resolve": {"axis": {"x": "independent", "y": "independent"}}
    },
    {
      "width": 355, "height": 272,
      "encoding": {
        "color": {"field": "m", "type": "nominal", "scale": {"domain": ["9.26-9.5", "9.5-9.8", "9.8-10.2", "10.2-10.7", ">10.7"], "range": ["blue", "green", "yellow", "orange", "red"]},
          "legend": {"orient": "bottom-left", "offset": 9, "title": null, "symbolType": "M-1,0H5", "symbolSize": 169, "symbolStrokeWidth": 3, "labelFontSize": 17, "labelFont": "DejaVu Sans", "labelColor": "black", "labelOffset": 38, "padding": 7, "rowPadding": 8, "strokeColor": "#cccccc", "fillColor": "rgba(255,255,255,0.8)", "cornerRadius": 4}}
      },
      "layer": [
        {"data": {"name": "d"}, "transform": [{"filter": "datum.p == 5"}], "mark": {"type": "line", "strokeWidth": 2.5},
         "encoding": {
           "x": {"field": "x", "type": "quantitative", "scale": {"domain": [-1, 1], "nice": false, "zero": false}, "axis": {"orient": "bottom", "values": [-1,-0.9,-0.8,-0.7,-0.6,-0.5,-0.4,-0.3,-0.2,-0.1,0,0.1,0.2,0.3,0.4,0.5,0.6,0.7,0.8,0.9,1], "tickSize": {"condition": {"test": "abs(datum.value*2-round(datum.value*2))<0.01", "value": -10}, "value": -5}, "tickWidth": {"condition": {"test": "abs(datum.value*2-round(datum.value*2))<0.01", "value": 1.8}, "value": 1.2}, "labelExpr": "abs(datum.value*2-round(datum.value*2))<0.01 ? format(datum.value,'.1f') : ''", "labelFontSize": 19, "labelPadding": 14, "title": "log(Σ)", "titleFontSize": 24, "titlePadding": 4}},
           "y": {"field": "y", "type": "quantitative", "scale": {"domain": [-1.5, 2.5], "nice": false, "zero": false, "clamp": true}, "axis": {"orient": "left", "values": [-1.4,-1.2,-1,-0.8,-0.6,-0.4,-0.2,0,0.2,0.4,0.6,0.8,1,1.2,1.4,1.6,1.8,2,2.2,2.4], "tickSize": {"condition": {"test": "abs(datum.value-round(datum.value))<0.01", "value": -10}, "value": -5}, "tickWidth": {"condition": {"test": "abs(datum.value-round(datum.value))<0.01", "value": 1.8}, "value": 1.2}, "labelExpr": "abs(datum.value-round(datum.value))<0.01 ? format(datum.value,'d') : ''", "labelFontSize": 19, "labelPadding": 7, "title": "log SFR[M⊙ yr⁻¹]", "titleFontSize": 24, "titlePadding": 8}}
         }},
        {"data": {"name": "d"}, "transform": [{"filter": "datum.p == 5"}], "mark": {"type": "errorbar", "thickness": 2},
         "encoding": {
           "x": {"field": "x", "type": "quantitative", "scale": {"domain": [-1, 1], "nice": false, "zero": false}, "axis": null},
           "y": {"field": "y", "type": "quantitative", "scale": {"domain": [-1.5, 2.5], "nice": false, "zero": false, "clamp": true}, "axis": null},
           "yError": {"field": "e"}
         }},
        {"data": {"name": "d"}, "transform": [{"filter": "datum.p == 5"}], "mark": {"type": "point", "filled": true, "size": 115, "opacity": 1},
         "encoding": {
           "x": {"field": "x", "type": "quantitative", "scale": {"domain": [-1, 1], "nice": false, "zero": false}, "axis": {"orient": "top", "values": [-1,-0.9,-0.8,-0.7,-0.6,-0.5,-0.4,-0.3,-0.2,-0.1,0,0.1,0.2,0.3,0.4,0.5,0.6,0.7,0.8,0.9,1], "tickSize": {"condition": {"test": "abs(datum.value*2-round(datum.value*2))<0.01", "value": -10}, "value": -5}, "tickWidth": {"condition": {"test": "abs(datum.value*2-round(datum.value*2))<0.01", "value": 1.8}, "value": 1.2}, "labels": false, "title": null}},
           "y": {"field": "y", "type": "quantitative", "scale": {"domain": [-1.5, 2.5], "nice": false, "zero": false, "clamp": true}, "axis": {"orient": "right", "values": [-1.4,-1.2,-1,-0.8,-0.6,-0.4,-0.2,0,0.2,0.4,0.6,0.8,1,1.2,1.4,1.6,1.8,2,2.2,2.4], "tickSize": {"condition": {"test": "abs(datum.value-round(datum.value))<0.01", "value": -10}, "value": -5}, "tickWidth": {"condition": {"test": "abs(datum.value-round(datum.value))<0.01", "value": 1.8}, "value": 1.2}, "labels": false, "title": null}}
         }},
        {"data": {"values": [{"label": "2.5<z<3"}]}, "mark": {"type": "text", "fontSize": 28, "align": "center", "baseline": "middle", "color": "black"},
         "encoding": {
           "x": {"datum": 0.455, "type": "quantitative", "scale": {"domain": [-1, 1], "nice": false, "zero": false}, "axis": null},
           "y": {"datum": 0.01, "type": "quantitative", "scale": {"domain": [-1.5, 2.5], "nice": false, "zero": false, "clamp": true}, "axis": null},
           "text": {"field": "label"}, "color": {"value": "black"}
         }}
      ],
      "resolve": {"axis": {"x": "independent", "y": "independent"}}
    },
    {
      "width": 355, "height": 272,
      "encoding": {
        "color": {"field": "m", "type": "nominal", "scale": {"domain": ["9.26-9.5", "9.5-9.8", "9.8-10.2", "10.2-10.7", ">10.7"], "range": ["blue", "green", "yellow", "orange", "red"]}, "legend": null}
      },
      "layer": [
        {"data": {"name": "d"}, "transform": [{"filter": "datum.p == 6"}], "mark": {"type": "line", "strokeWidth": 2.5},
         "encoding": {
           "x": {"field": "x", "type": "quantitative", "scale": {"domain": [-1, 1], "nice": false, "zero": false}, "axis": {"orient": "bottom", "values": [-1,-0.9,-0.8,-0.7,-0.6,-0.5,-0.4,-0.3,-0.2,-0.1,0,0.1,0.2,0.3,0.4,0.5,0.6,0.7,0.8,0.9,1], "tickSize": {"condition": {"test": "abs(datum.value*2-round(datum.value*2))<0.01", "value": -10}, "value": -5}, "tickWidth": {"condition": {"test": "abs(datum.value*2-round(datum.value*2))<0.01", "value": 1.8}, "value": 1.2}, "labelExpr": "abs(datum.value*2-round(datum.value*2))<0.01 && datum.value > -0.99 ? format(datum.value,'.1f') : ''", "labelFontSize": 19, "labelPadding": 14, "title": "log(Σ)", "titleFontSize": 24, "titlePadding": 4}},
           "y": {"field": "y", "type": "quantitative", "scale": {"domain": [-1.5, 2.5], "nice": false, "zero": false, "clamp": true}, "axis": {"orient": "left", "values": [-1.4,-1.2,-1,-0.8,-0.6,-0.4,-0.2,0,0.2,0.4,0.6,0.8,1,1.2,1.4,1.6,1.8,2,2.2,2.4], "tickSize": {"condition": {"test": "abs(datum.value-round(datum.value))<0.01", "value": -10}, "value": -5}, "tickWidth": {"condition": {"test": "abs(datum.value-round(datum.value))<0.01", "value": 1.8}, "value": 1.2}, "labels": false, "title": null}}
         }},
        {"data": {"name": "d"}, "transform": [{"filter": "datum.p == 6"}], "mark": {"type": "errorbar", "thickness": 2},
         "encoding": {
           "x": {"field": "x", "type": "quantitative", "scale": {"domain": [-1, 1], "nice": false, "zero": false}, "axis": null},
           "y": {"field": "y", "type": "quantitative", "scale": {"domain": [-1.5, 2.5], "nice": false, "zero": false, "clamp": true}, "axis": null},
           "yError": {"field": "e"}
         }},
        {"data": {"name": "d"}, "transform": [{"filter": "datum.p == 6"}], "mark": {"type": "point", "filled": true, "size": 115, "opacity": 1},
         "encoding": {
           "x": {"field": "x", "type": "quantitative", "scale": {"domain": [-1, 1], "nice": false, "zero": false}, "axis": {"orient": "top", "values": [-1,-0.9,-0.8,-0.7,-0.6,-0.5,-0.4,-0.3,-0.2,-0.1,0,0.1,0.2,0.3,0.4,0.5,0.6,0.7,0.8,0.9,1], "tickSize": {"condition": {"test": "abs(datum.value*2-round(datum.value*2))<0.01", "value": -10}, "value": -5}, "tickWidth": {"condition": {"test": "abs(datum.value*2-round(datum.value*2))<0.01", "value": 1.8}, "value": 1.2}, "labels": false, "title": null}},
           "y": {"field": "y", "type": "quantitative", "scale": {"domain": [-1.5, 2.5], "nice": false, "zero": false, "clamp": true}, "axis": {"orient": "right", "values": [-1.4,-1.2,-1,-0.8,-0.6,-0.4,-0.2,0,0.2,0.4,0.6,0.8,1,1.2,1.4,1.6,1.8,2,2.2,2.4], "tickSize": {"condition": {"test": "abs(datum.value-round(datum.value))<0.01", "value": -10}, "value": -5}, "tickWidth": {"condition": {"test": "abs(datum.value-round(datum.value))<0.01", "value": 1.8}, "value": 1.2}, "labels": false, "title": null}}
         }},
        {"data": {"values": [{"label": "3<z<4"}]}, "mark": {"type": "text", "fontSize": 28, "align": "center", "baseline": "middle", "color": "black"},
         "encoding": {
           "x": {"datum": 0.28, "type": "quantitative", "scale": {"domain": [-1, 1], "nice": false, "zero": false}, "axis": null},
           "y": {"datum": -0.07, "type": "quantitative", "scale": {"domain": [-1.5, 2.5], "nice": false, "zero": false, "clamp": true}, "axis": null},
           "text": {"field": "label"}, "color": {"value": "black"}
         }}
      ],
      "resolve": {"axis": {"x": "independent", "y": "independent"}}
    }
  ]
}
